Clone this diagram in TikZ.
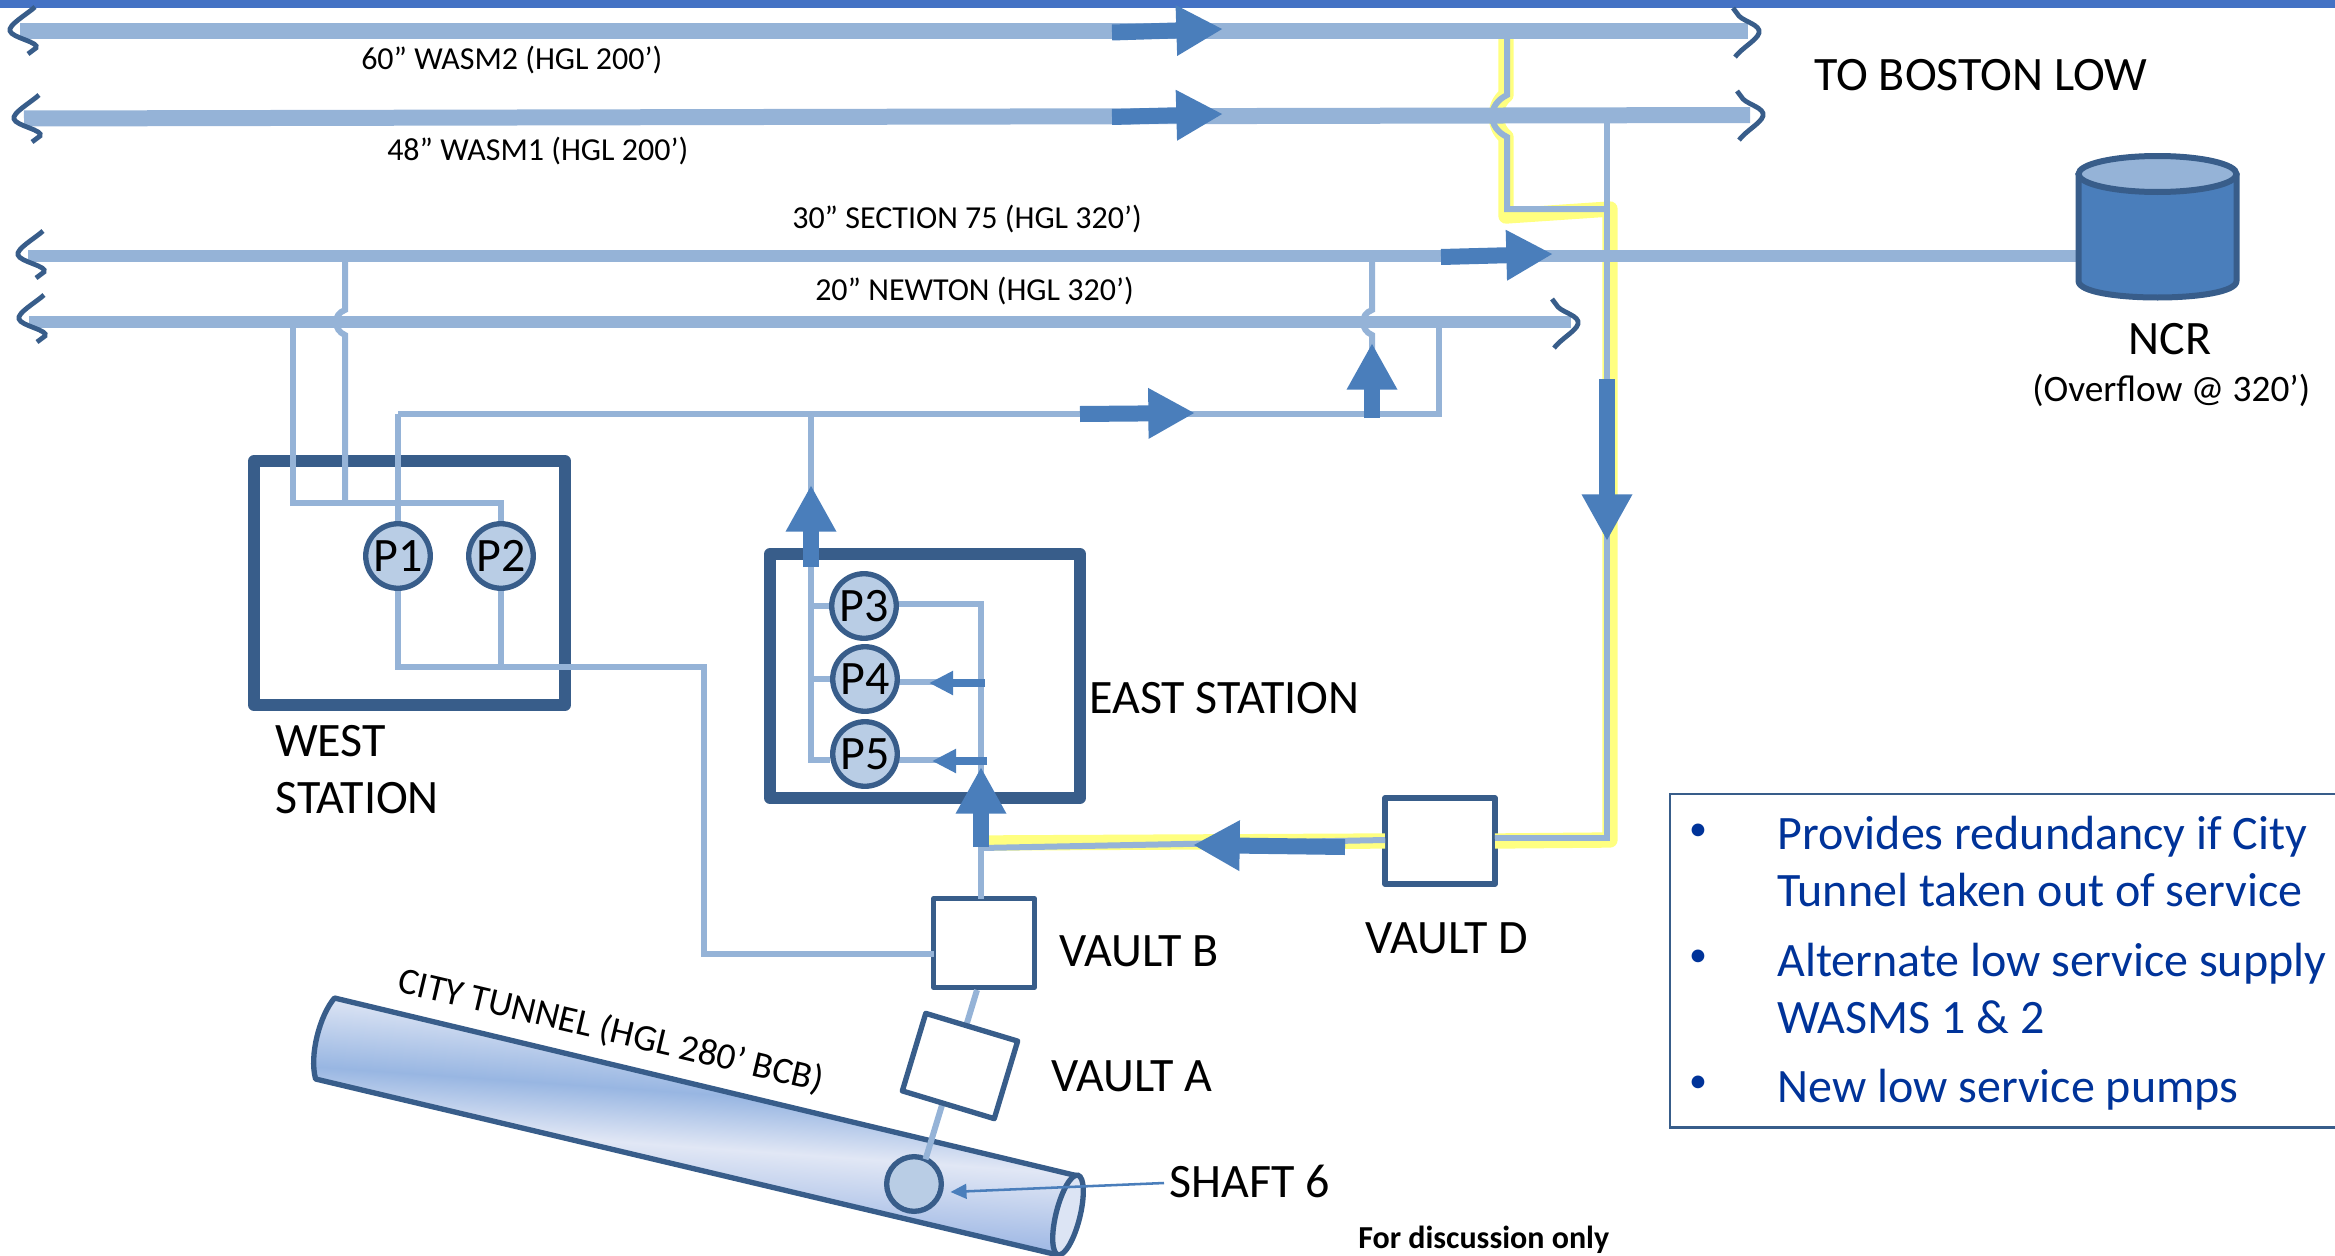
\documentclass[tikz,border=0pt]{standalone}
\usepackage{fontspec}
\setmainfont{Carlito}
\usetikzlibrary{arrows.meta}
\definecolor{pipeblue}{HTML}{95B3D7}
\definecolor{arrowblue}{HTML}{4A7EBB}
\definecolor{darkblue}{HTML}{385D8A}
\definecolor{pumpfill}{HTML}{B9CDE5}
\definecolor{topbar}{HTML}{4472C4}
\definecolor{hilite}{HTML}{FFFF80}
\definecolor{infotext}{HTML}{003399}
\definecolor{tubeA}{HTML}{DCE4F4}
\definecolor{tubeB}{HTML}{98B6E2}
\definecolor{tubeC}{HTML}{E1E7F5}
\definecolor{tubeD}{HTML}{9DB7E4}
\pgfdeclareverticalshading{tunnelshade}{100bp}{
  color(0bp)=(tubeD); color(31.3bp)=(tubeD); color(46bp)=(tubeC);
  color(55.6bp)=(tubeB); color(67.9bp)=(tubeA); color(100bp)=(tubeA)}
\tikzset{
  x=0.75pt, y=-0.75pt,
  pipewide/.style={draw=pipeblue,line width=12pt},
  pipemed/.style={draw=pipeblue,line width=9pt},
  thinpipe/.style={draw=pipeblue,line width=4.5pt,line join=miter},
  glow/.style={draw=hilite,line width=11.5pt,line join=round},
  flowbig/.style={draw=arrowblue,line width=12pt,-{Triangle[length=35pt,width=35.5pt,fill=arrowblue]}},
  flowsmall/.style={draw=arrowblue,line width=6pt,-{Triangle[length=18pt,width=17pt,fill=arrowblue]}},
  squig/.style={draw=darkblue,line width=3.6pt},
  stationbox/.style={draw=darkblue,line width=9pt,fill=none,rectangle,inner sep=0pt,outer sep=0pt,line join=round},
  vaultbox/.style={draw=darkblue,line width=4pt,fill=white,rectangle,inner sep=0pt,outer sep=0pt,line join=round},
  pump/.style={draw=darkblue,line width=4pt,fill=pumpfill,circle,inner sep=0pt,outer sep=0pt,minimum size=48.4pt,font=\fontsize{36}{40}\selectfont},
  shaftmark/.style={draw=darkblue,line width=4pt,fill=pumpfill,circle,inner sep=0pt,outer sep=0pt,minimum size=41pt},
  lblsmall/.style={inner sep=0pt,anchor=base west,font=\fontsize{24}{28}\selectfont},
  lblbig/.style={inner sep=0pt,anchor=base west,font=\fontsize{36}{40}\selectfont},
  infoline/.style={inner sep=0pt,anchor=base west,text=infotext,font=\fontsize{36}{40}\selectfont},
  infobullet/.style={inner sep=0pt,anchor=center,text=infotext,font=\fontsize{27}{30}\selectfont},
  leaderline/.style={draw=arrowblue,line width=1.9pt,-{Triangle[length=12pt,width=11pt,fill=arrowblue]}},
  squigL/.pic={\draw[squig] (15,-24) .. controls (6,-16) and (-12,-6) .. (-10,0) .. controls (-8,7) and (20,11) .. (16,17) -- (8,23);},
  squigR/.pic={\draw[squig] (-12,-23) -- (-6,-15) .. controls (0,-9) and (16,-6) .. (14,2) .. controls (12,9) and (-2,16) .. (-10,26);},
}
\begin{document}
\begin{tikzpicture}
\useasboundingbox (0,0) rectangle (2335,1256);
\clip (0,0) rectangle (2335,1256);
\fill[topbar] (0,0) rectangle (2335,8);

% pipe end points and junctions
\coordinate (w2L) at (20,31);   \coordinate (w2R) at (1748,31);
\coordinate (w1L) at (24,118.5);\coordinate (w1R) at (1750,115);
\coordinate (s75L) at (28,256); \coordinate (ncrW) at (2078,256);
\coordinate (nwL) at (29,322);  \coordinate (nwR) at (1571,322);

% tunnel
\begin{scope}
  \clip (334.5,998) .. controls (320,1015) and (309,1055) .. (315.6,1079)
    -- (1058,1255) -- (1068,1215) -- (1078,1176) -- cycle;
  \begin{scope}[transform canvas={rotate around={-4:(700,1125)}}]
    \shade[shading=tunnelshade] (200,985) rectangle (1200,1265);
  \end{scope}
\end{scope}
\draw[draw=darkblue,line width=4pt,line join=round]
  (1078,1176) -- (334.5,998) .. controls (320,1015) and (309,1055) .. (315.6,1079) -- (1058,1255);
\draw[draw=darkblue,line width=4pt,fill=tubeA,rotate around={-14:(1068,1215)}]
  (1068,1215) ellipse [x radius=12,y radius=41];
\node[shaftmark] (shaft) at (914,1184) {};

% stations and vaults
\node[stationbox,minimum width=233.25pt,minimum height=183pt] (west) at (409.5,583) {};
\node[stationbox,minimum width=232.5pt,minimum height=183pt] (east) at (925,676) {};
\node[vaultbox,minimum width=82.5pt,minimum height=64.5pt] (vaultD) at (1440,841) {};
\node[vaultbox,minimum width=75.4pt,minimum height=66.75pt] (vaultB) at (984,943) {};

% highlighted route
\draw[glow] (1506,39) -- (1506,95) .. controls (1493,105) and (1493,127) .. (1506,137)
  -- (1506,216) -- (1610,209) -- (1610,840) -- (vaultD.east);
\draw[glow] (vaultD.west) -- (985,843);

% thin pipes
\coordinate (wj1) at (293,503); \coordinate (wj2) at (345,503); \coordinate (wj3) at (398,503);
\coordinate (wj4) at (501,503); \coordinate (wb1) at (398,667); \coordinate (wb2) at (501,667);
\coordinate (wb3) at (704,667); \coordinate (wb4) at (704,954);
\coordinate (mid1) at (398,414); \coordinate (mid2) at (1439,414); \coordinate (mid3) at (1439,328);
\coordinate (mid4) at (811,414); \coordinate (mid5) at (1372,414); \coordinate (vbIn) at (vaultB.west |- wb4);

\draw[thinpipe] (293,328) -- (wj1) -- (wj4) -- (501,525);
\draw[thinpipe] (345,262) -- (345,310) .. controls (333,314) and (333,330) .. (345,335) -- (wj2);
\draw[thinpipe] (1372,262) -- (1372,310) .. controls (1360,314) and (1360,330) .. (1372,335) -- (mid5);
\draw[thinpipe] (mid1) -- (398,525);
\draw[thinpipe] (mid1) -- (mid2) -- (mid3);
\draw[thinpipe] (398,590) -- (wb1) -- (wb3) -- (wb4) -- (vbIn);
\draw[thinpipe] (501,590) -- (wb2);
\draw[thinpipe] (mid4) -- (811,760) -- (830,760);
\draw[thinpipe] (811,606) -- (830,606);
\draw[thinpipe] (811,679) -- (830,679);
\draw[thinpipe] (895,604) -- (981,604) -- (981,760);
\draw[thinpipe] (981,760) -- (vaultB.north -| 981,0);
\draw[thinpipe] (895,682) -- (981,682);
\draw[thinpipe] (895,760) -- (981,760);
\draw[draw=pipeblue,line width=5pt] (1607,123) -- (1607,838) -- (vaultD.east |- 1607,838);
\draw[draw=pipeblue,line width=4.5pt] (1507,39) -- (1507,95) .. controls (1487,105) and (1487,127) .. (1507,137) -- (1507,209) -- (1607,209);
\draw[draw=pipeblue,line width=4.5pt] (vaultD.west |- 0,840) -- (981,848);
\draw[draw=pipeblue,line width=4.5pt] (977,990) -- (shaft.65);
\node[vaultbox,rotate=-16.8,minimum width=72pt,minimum height=60.75pt] (vaultA) at (960,1066) {};

% main pipes
\draw[pipewide] (w2L) -- (w2R);
\draw[pipewide] (w1L) -- (w1R);
\draw[pipemed] (s75L) -- (ncrW);
\draw[pipemed] (nwL) -- (nwR);

% pipe break marks
\pic (b1) at (w2L) {squigL};
\pic (b2) at (24,119) {squigL};
\pic (b3) at (28,255) {squigL};
\pic (b4) at (29,319) {squigL};
\pic (b5) at (1745,31) {squigR};
\pic (b6) at (1749,114) {squigR};
\pic (b7) at (1564,322) {squigR};

% flow arrows
\draw[flowbig] (1112,32.5) -- (1223,29);
\draw[flowbig] (1112,117) -- (1223,114);
\draw[flowbig] (1441,257) -- (1553,254);
\draw[flowbig] (1080,414) -- (1195,413);
\draw[flowbig] (1372,418) -- (1372,343);
\draw[flowbig] (1607,379) -- (1607,541);
\draw[flowbig] (1345,847) -- (1193,845);
\draw[flowbig] (811,567) -- (811,485);
\draw[flowbig] (981,847) -- (981,767);
\draw[flowsmall] (985,683) -- (929,683);
\draw[flowsmall] (987,761) -- (932,761);

% pumps
\node[pump] (P1) at (398,556) {P1};
\node[pump] (P2) at (501,556) {P2};
\node[pump] (P3) at (864,606) {P3};
\node[pump] (P4) at (865,679) {P4};
\node[pump] (P5) at (865,754) {P5};

% reservoir
\draw[draw=darkblue,line width=4.5pt,fill=arrowblue,line join=round]
  (2078.5,174) -- (2078.5,281) .. controls (2078.5,303) and (2236.5,303) .. (2236.5,281) -- (2236.5,174) -- cycle;
\draw[draw=darkblue,line width=4.5pt,fill=pipeblue] (2157.5,174) ellipse [x radius=79,y radius=18];

% labels
\node[lblsmall] (t1) at (361,69.5) {60” WASM2 (HGL 200’)};
\node[lblsmall] (t2) at (387,160.5) {48” WASM1 (HGL 200’)};
\node[lblsmall] (t3) at (792,228) {30” SECTION 75 (HGL 320’)};
\node[lblsmall] (t4) at (815,300) {20” NEWTON (HGL 320’)};
\node[lblbig] (t5) at (1814,90) {TO BOSTON LOW};
\node[lblbig,anchor=base] (t6) at (2170,354) {NCR};
\node[lblsmall,font=\fontsize{28}{32}\selectfont] (t7) at (2032,401.5) {(Overflow @ 320’)};
\node[lblbig] (t8) at (275,756) {WEST};
\node[lblbig] (t9) at (275,813) {STATION};
\node[lblbig] (t10) at (1089,713) {EAST STATION};
\node[lblbig] (t11) at (1059,966.5) {VAULT B};
\node[lblbig] (t12) at (1051,1091.5) {VAULT A};
\node[lblbig] (t13) at (1365,953) {VAULT D};
\node[lblbig] (t14) at (1169,1197) {SHAFT 6};
\node[lblsmall,font=\fontsize{24}{28}\bfseries\selectfont] (t15) at (1358,1248) {For discussion only};
\node[inner sep=0pt,rotate=-13.3,font=\fontsize{28}{32}\selectfont] (t16) at (611,1031) {CITY TUNNEL (HGL 280’ BCB)};

% leader
\coordinate (shaftLead) at (1164,1183);
\draw[leaderline] (shaftLead) -- (950.5,1192);

% information panel
\node[draw=darkblue,line width=2pt,rectangle,inner sep=0pt,minimum width=547.5pt,minimum height=250pt] (info) at (2035,960.5) {};
\node[infobullet] (b-a) at (1698,832) {•};
\node[infobullet] (b-b) at (1698,958) {•};
\node[infobullet] (b-c) at (1698,1084) {•};
\node[infoline] (i1) at (1777,849) {Provides redundancy if City};
\node[infoline] (i2) at (1777,906) {Tunnel taken out of service};
\node[infoline] (i3) at (1777,976) {Alternate low service supply};
\node[infoline] (i4) at (1777,1033) {WASMS 1 \& 2};
\node[infoline] (i5) at (1777,1102) {New low service pumps};
\end{tikzpicture}
\end{document}
